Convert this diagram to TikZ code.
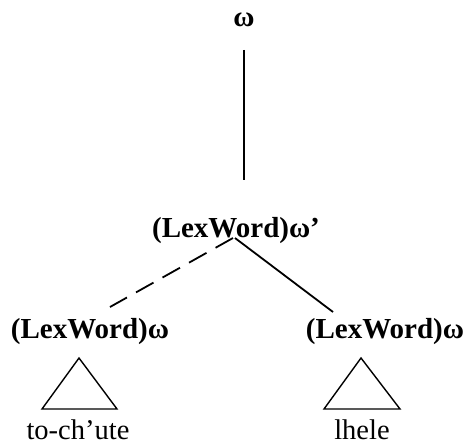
\documentclass[tikz,border=0pt]{standalone}
\usepackage{fontspec}
\setmainfont{Liberation Serif}
\begin{document}
\begin{tikzpicture}[x=1pt,y=-1pt,
  lab/.style={inner sep=0pt,anchor=base,font=\fontsize{29}{31}\selectfont\bfseries},
  word/.style={inner sep=0pt,anchor=base,font=\fontsize{28.5}{30}\selectfont},
  edge/.style={line width=1.8pt},
  dashedge/.style={line width=1.8pt,dash pattern=on 20pt off 10.4pt},
  tri/.style={line width=1.4pt,line join=miter}]
\useasboundingbox (0,0) rectangle (471,444);
\node[lab] (top) at (244,27) {ω};
\node[lab] (mid) at (236,237) {(LexWord)ω’};
\node[lab] (left) at (90,338) {(LexWord)ω};
\node[lab] (right) at (385,338) {(LexWord)ω};
\node[word] (w1) at (78,439) {to-ch’ute};
\node[word] (w2) at (362,439) {lhele};
% connectors
\coordinate (midtop) at ([shift={(0,-57)}]mid.base);
\draw[edge] ([shift={(0,23)}]top.base) -- (top.base |- midtop);
\draw[dashedge] ([shift={(-3,1)}]mid.base) -- ([shift={(20,-31)}]left.base);
\draw[edge] ([shift={(-1,1)}]mid.base) -- ([shift={(-52,-26)}]right.base);
% triangles
\coordinate (t1) at ([shift={(1,-81)}]w1.base);
\draw[tri] (t1) -- ++(-37,51) -- ++(75,0) -- cycle;
\coordinate (t2) at ([shift={(-1,-81)}]w2.base);
\draw[tri] (t2) -- ++(-37,51) -- ++(76,0) -- cycle;
\end{tikzpicture}
\end{document}
